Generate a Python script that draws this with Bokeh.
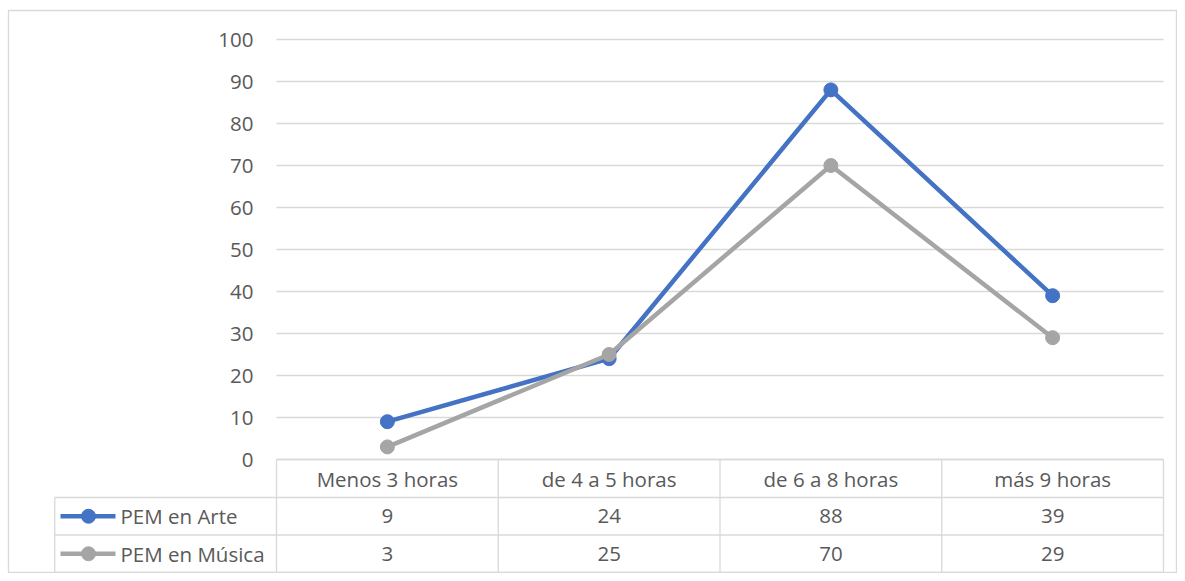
from bokeh.plotting import figure
from bokeh.models import Range1d, ColumnDataSource
from bokeh.core.properties import value
from bokeh.embed import file_html
from bokeh.resources import INLINE

categories = ["Menos 3 horas", "de 4 a 5 horas", "de 6 a 8 horas", "más 9 horas"]
series_names = ["PEM en Arte", "PEM en Música"]
arte = [9, 24, 88, 39]
musica = [3, 25, 70, 29]
y_ticks = [0, 10, 20, 30, 40, 50, 60, 70, 80, 90, 100]

colors = ["#4472C4", "#A5A5A5"]
text_color = "#595959"
grid_color = "#D9D9D9"
FONT = "Open Sans"
FS = "20.5px"

W, H = 1177, 573
FL, FT, FR, FB = 8, 10, 1176, 572   # frame edges in canvas pixels
PLOT_L, PLOT_R = 276.0, 1163.0
Y0_PX, Y100_PX = 459.0, 39.0
px_per_x = (PLOT_R - PLOT_L) / len(categories)
px_per_y = (Y0_PX - Y100_PX) / 100.0

def X(px):
    return (px - PLOT_L) / px_per_x

def Y(py):
    return (Y0_PX - py) / px_per_y

p = figure(width=W, height=H, output_backend="svg", toolbar_location=None,
           x_range=Range1d(X(FL), X(FR)), y_range=Range1d(Y(FB), Y(FT)),
           min_border_left=FL, min_border_right=W - FR, min_border_bottom=H - FB,
           min_border_top=FT)
p.axis.visible = False
p.grid.visible = False
p.outline_line_color = grid_color
p.outline_line_width = 1.3
p.background_fill_color = "white"
p.border_fill_color = "white"

n = len(categories)
xc = [i + 0.5 for i in range(n)]

# gridlines
p.segment(x0=[0] * len(y_ticks), x1=[n] * len(y_ticks), y0=y_ticks, y1=y_ticks,
          line_color=grid_color, line_width=1.3)
# y tick labels
p.text(x=[X(253)] * len(y_ticks), y=y_ticks, text=[str(t) for t in y_ticks],
       text_align="right", text_baseline="middle", text_color=text_color,
       text_font=value(FONT), text_font_size=FS)

# table
rows_px = [459.0, 497.0, 534.5, 572.0]
rows = [Y(v) for v in rows_px]
p.segment(x0=[0], x1=[n], y0=[rows[0]], y1=[rows[0]], line_color=grid_color, line_width=1.3)
p.segment(x0=[-1] * 3, x1=[n] * 3, y0=rows[1:], y1=rows[1:], line_color=grid_color, line_width=1.3)
p.segment(x0=[-1], x1=[-1], y0=[rows[1]], y1=[rows[3]], line_color=grid_color, line_width=1.3)
vx = list(range(n + 1))
p.segment(x0=vx, x1=vx, y0=[rows[0]] * len(vx), y1=[rows[3]] * len(vx),
          line_color=grid_color, line_width=1.3)

mid = [(rows[i] + rows[i + 1]) / 2 for i in range(3)]
p.text(x=xc, y=[mid[0]] * n, text=categories, text_align="center", text_baseline="middle",
       text_color=text_color, text_font=value(FONT), text_font_size=FS)
for r, vals in enumerate([arte, musica]):
    p.text(x=xc, y=[mid[r + 1]] * n, text=[str(v) for v in vals], text_align="center",
           text_baseline="middle", text_color=text_color, text_font=value(FONT), text_font_size=FS)
    p.line(x=[X(60), X(115)], y=[mid[r + 1]] * 2, line_color=colors[r], line_width=4.5)
    p.scatter(x=[X(88)], y=[mid[r + 1]], size=14, fill_color=colors[r], line_color=colors[r])
    p.text(x=[X(120)], y=[mid[r + 1]], text=[series_names[r]], text_align="left",
           text_baseline="middle", text_color=text_color, text_font=value(FONT), text_font_size=FS)

# series
for vals, c in zip([arte, musica], colors):
    src = ColumnDataSource(dict(x=xc, y=vals))
    p.line("x", "y", source=src, line_color=c, line_width=4.5, line_join="round")
    p.scatter("x", "y", source=src, size=14, fill_color=c, line_color=c)

open("out.html", "w").write(file_html(p, INLINE))
